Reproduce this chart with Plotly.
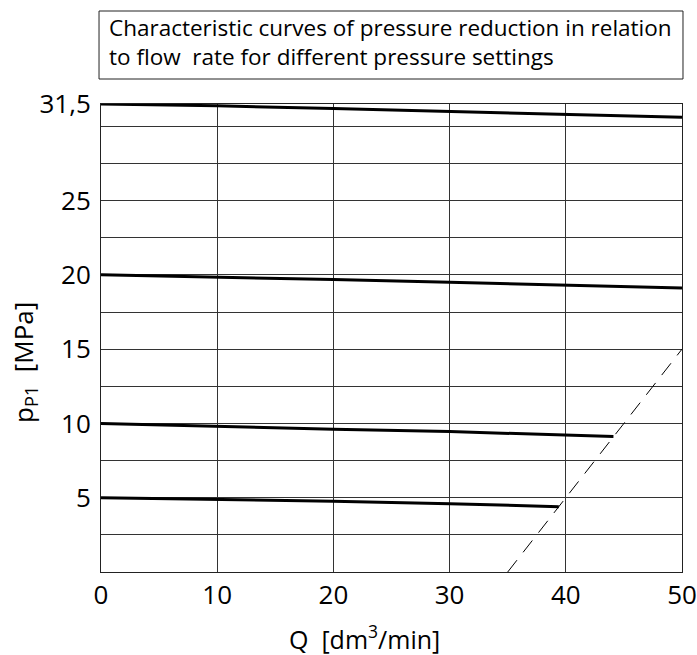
import plotly.graph_objects as go

# ---- data ----
flow_q = [0, 10, 20, 30, 40, 50]
p_315 = [31.5, 31.38, 31.2, 31.0, 30.78, 30.6]
p_20 = [20.0, 19.87, 19.69, 19.51, 19.31, 19.11]
flow_q10 = [0, 10, 20, 30, 40, 44.1]
p_10 = [10.0, 9.79, 9.61, 9.45, 9.25, 9.12]
flow_q5 = [0, 10, 20, 30, 39.4]
p_5 = [5.0, 4.89, 4.77, 4.6, 4.4]
limit_q = [35, 50]
limit_p = [0, 15]

x_ticks = [0, 10, 20, 30, 40, 50]
x_ticktext = ["0", "10", "20", "30", "40", "50"]
y_ticks = [5, 10, 15, 20, 25, 31.5]
y_ticktext = ["5", "10", "15", "20", "25", "31,5"]
y_minor = [2.5, 7.5, 12.5, 17.5, 22.5, 27.5, 30]

title_lines = ["Characteristic curves of pressure reduction in relation",
               "to flow\u00a0 rate for different pressure settings"]

FONT = "Open Sans, sans-serif"

fig = go.Figure()
for xs, ys in [(flow_q, p_315), (flow_q, p_20), (flow_q10, p_10), (flow_q5, p_5)]:
    fig.add_trace(go.Scatter(x=xs, y=ys, mode="lines", cliponaxis=False,
                             line=dict(color="black", width=3), showlegend=False,
                             hoverinfo="skip"))
fig.add_trace(go.Scatter(x=limit_q, y=limit_p, mode="lines",
                         line=dict(color="black", width=1, dash="15px,10px"),
                         showlegend=False, hoverinfo="skip"))

fig.update_layout(
    width=697, height=655,
    margin=dict(l=101, r=15, t=104, b=83),
    paper_bgcolor="white", plot_bgcolor="white",
    font=dict(family=FONT, color="black"),
)
fig.update_xaxes(range=[0, 50], tickvals=x_ticks, ticktext=x_ticktext,
                 automargin=False,
                 showgrid=True, gridcolor="#333", gridwidth=1,
                 showline=True, mirror=True, linecolor="#222", linewidth=1,
                 zeroline=False, ticks="", ticklabelstandoff=0,
                 tickfont=dict(size=26, family=FONT, color="black"))
fig.update_yaxes(range=[0, 31.5], tickvals=y_ticks, ticktext=y_ticktext,
                 automargin=False,
                 showgrid=True, gridcolor="#333", gridwidth=1,
                 minor=dict(tickvals=y_minor, showgrid=True, gridcolor="#333", gridwidth=1),
                 showline=True, mirror=True, linecolor="#222", linewidth=1,
                 zeroline=False, ticks="", ticklabelstandoff=4,
                 tickfont=dict(size=26, family=FONT, color="black"))

# title box
fig.add_shape(type="rect", xref="paper", yref="paper",
              x0=-0.0034, x1=1.0017, y0=1.0534, y1=1.1987,
              line=dict(color="#222", width=1), fillcolor="white")
fig.add_annotation(text="<br>".join(title_lines), xref="paper", yref="paper",
                   x=0.0103, y=1.1325, xanchor="left", yanchor="middle", align="left",
                   showarrow=False, font=dict(size=22.5, family=FONT, color="black"))

# axis titles
fig.add_annotation(text="Q  [dm<sup>3</sup>/min]", xref="paper", yref="paper",
                   x=0.454, y=-0.141, xanchor="center", yanchor="middle",
                   showarrow=False, font=dict(size=25, family=FONT, color="black"))
fig.add_annotation(text="p<sub>P1</sub>  [MPa]", xref="paper", yref="paper",
                   x=-0.1325, y=0.4466, xanchor="center", yanchor="middle",
                   textangle=-90, showarrow=False,
                   font=dict(size=26, family=FONT, color="black"))

fig.write_html(
    "out.html",
    config={"responsive": False, "displayModeBar": False},
    post_script="document.body.style.margin='0';document.body.style.overflow='hidden';",
)
